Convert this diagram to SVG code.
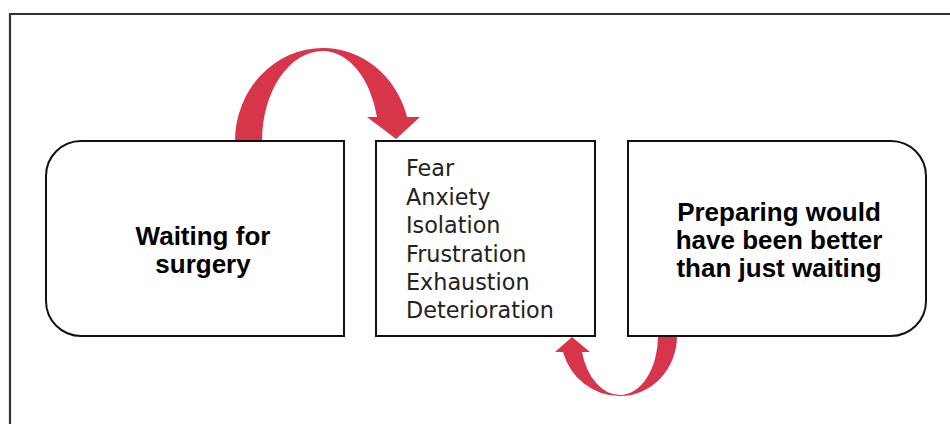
<svg xmlns="http://www.w3.org/2000/svg" width="950" height="424" viewBox="0 0 950 424">
<style>
.box{fill:#fff;stroke:#111;stroke-width:2}
.frame{fill:none;stroke:#333;stroke-width:2.2}
.arrow{fill:#d7354a}
.lbl{font-family:"Liberation Sans",Arial,sans-serif;font-weight:bold;font-size:26px;fill:#000;text-anchor:middle}
.lst{font-family:"DejaVu Sans",sans-serif;font-size:22.3px;fill:#222}
</style>
<rect width="950" height="424" fill="#fff"/>
<path class="frame" d="M10,424 V14 H950"/>
<g id="connectors">
<path class="arrow" d="M235,141 A88,93 0 0 1 323,48 A87,93 0 0 1 407,117 L420,117 L396,139 L367,117 L377,117 A56,90 0 0 0 323,51 A61,90 0 0 0 262,141 Z"/>
<path class="arrow" d="M677,336 A57,60 0 0 1 620,396 A59,60 0 0 1 563,352 L555,352 L572,337 L590,352 L582,352 A39.5,59 0 0 0 620,395 A38,59 0 0 0 658,336 Z"/>
</g>
<g id="node-waiting">
<path class="box" d="M81,141 H344 V336 H81 A35,35 0 0 1 46,301 V176 A35,35 0 0 1 81,141 Z"/>
<text class="lbl" x="203" y="245">Waiting for</text>
<text class="lbl" x="203" y="273">surgery</text>
</g>
<g id="node-feelings">
<rect class="box" x="376" y="141" width="219" height="195"/>
<text class="lst" x="406" y="176">Fear</text>
<text class="lst" x="406" y="204.5">Anxiety</text>
<text class="lst" x="406" y="233">Isolation</text>
<text class="lst" x="406" y="261.5">Frustration</text>
<text class="lst" x="406" y="290">Exhaustion</text>
<text class="lst" x="406" y="318">Deterioration</text>
</g>
<g id="node-preparing">
<path class="box" d="M628,141 H891 A35,35 0 0 1 926,176 V301 A35,35 0 0 1 891,336 H628 Z"/>
<text class="lbl" x="779" y="221">Preparing would</text>
<text class="lbl" x="779" y="249">have been better</text>
<text class="lbl" x="779" y="277">than just waiting</text>
</g>
</svg>
